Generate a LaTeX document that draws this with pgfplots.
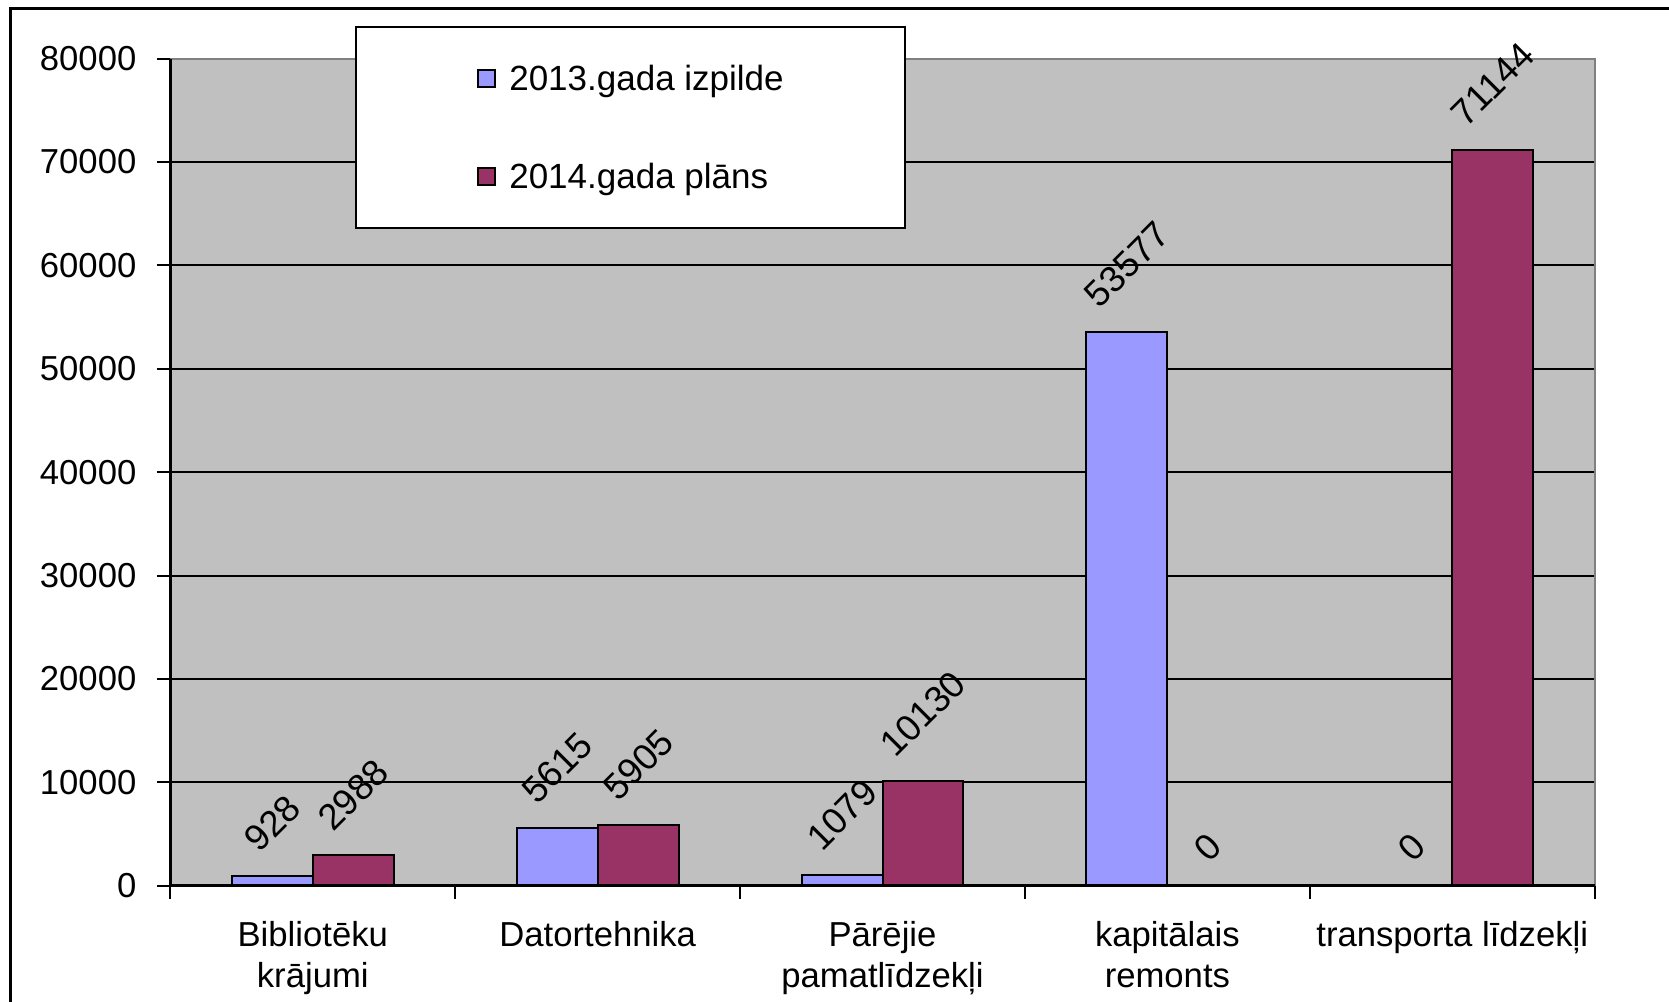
\documentclass[border=0pt]{standalone}
\usepackage{fontspec}
\setmainfont{Liberation Sans}
\usepackage{graphicx}
\usepackage{pgfplots}
\pgfplotsset{compat=1.18}
\definecolor{serA}{HTML}{9999FF}
\definecolor{serB}{HTML}{993366}
\definecolor{plotbg}{HTML}{C0C0C0}
\definecolor{frameg}{HTML}{808080}
\begin{document}
\begin{tikzpicture}
\useasboundingbox (-51.1pt,-34.6pt) rectangle (449.6pt,265.7pt);
\draw[line width=0.7pt] (-47.9pt,-40pt) -- (-47.9pt,263.1pt) -- (460pt,263.1pt);
\begin{axis}[
 at={(0pt,0pt)}, anchor=south west,
 scale only axis, width=427.3pt, height=248.1pt,
 xmin=-0.5, xmax=4.5, ymin=0, ymax=80000,
 clip=false,
 axis background/.style={fill=plotbg},
 axis line style={draw=none},
 ybar=0pt, bar width=0.284,
 xtick={-0.5,0.5,1.5,2.5,3.5,4.5},
 x tick label as interval,
 xticklabels={{Bibliotēku\\krājumi},{Datortehnika},{Pārējie\\pamatlīdzekļi},{kapitālais\\remonts},{transporta līdzekļi}},
 ytick={0,10000,...,80000},
 xtick pos=bottom, ytick pos=left,
 ymajorgrids,
 major grid style={black, line width=0.6pt},
 tick align=outside,
 major tick length=4pt,
 tick style={black, line width=0.6pt},
 ticklabel style={font=\fontsize{10.4}{12.4}\selectfont},
 xticklabel style={align=center, anchor=north, inner sep=0pt, yshift=-6.5pt},
 yticklabel style={anchor=east, inner sep=0pt, xshift=-6pt},
 /pgf/number format/1000 sep={},
 /pgf/number format/assume math mode=true,
 scaled y ticks=false,
 legend style={at={(0.1294,1.040)}, anchor=north west, draw=black, line width=0.6pt, fill=white,
   inner xsep=36.5pt, inner ysep=10.6pt, row sep=19.7pt, column sep=3.9pt,
   nodes={inner sep=0pt, text height=8.5pt, text depth=1.2pt, font=\fontsize{10.5}{12}\selectfont},
   cells={anchor=west}},
 nodes near coords={\rotatebox{45}{\pgfmathprintnumber{\pgfplotspointmeta}}},
 every node near coord/.append style={anchor=south, inner sep=0pt, yshift=6.3pt, font=\fontsize{11}{13}\selectfont, black},
]
\addplot[fill=serA, draw=black, line width=0.6pt, bar shift=-0.142,
  legend image code/.code={\draw[fill=serA, draw=black, line width=0.6pt] (0.6pt,-2.55pt) rectangle (5.7pt,2.55pt);}]
  coordinates {(0,928) (1,5615) (2,1079) (3,53577) (4,0)};
\addplot[fill=serB, draw=black, line width=0.6pt, bar shift=0.142,
  legend image code/.code={\draw[fill=serB, draw=black, line width=0.6pt] (0.6pt,-2.55pt) rectangle (5.7pt,2.55pt);}]
  coordinates {(0,2988) (1,5905) (2,10130) (3,0) (4,71144)};
\legend{2013.gada izpilde, 2014.gada plāns}
\draw[frameg, line width=0.6pt] (rel axis cs:0,1) -- (rel axis cs:1,1) -- (rel axis cs:1,0);
\draw[black, line width=0.8pt] (rel axis cs:0,0) -- (rel axis cs:0,1);
\draw[black, line width=0.8pt] (rel axis cs:0,0) -- (rel axis cs:1,0);
\end{axis}
\end{tikzpicture}
\end{document}
